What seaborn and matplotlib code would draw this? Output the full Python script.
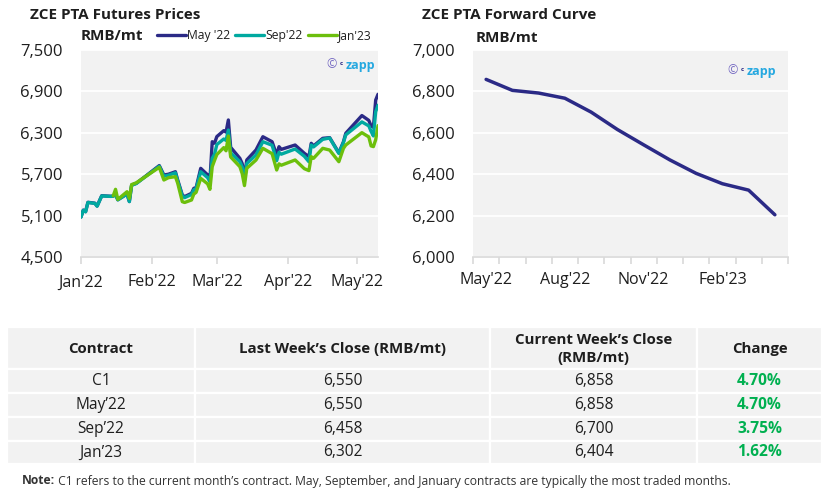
import numpy as np
import pandas as pd
import matplotlib
matplotlib.use("Agg")
import matplotlib.pyplot as plt
import matplotlib.dates as mdates
from matplotlib.ticker import FuncFormatter
from matplotlib.patches import Rectangle
import seaborn as sns

# ZCE PTA futures prices (RMB/mt)
dates = ["2022-01-04", "2022-01-05", "2022-01-06", "2022-01-07", "2022-01-10", "2022-01-11",
         "2022-01-13", "2022-01-17", "2022-01-18", "2022-01-19", "2022-01-20", "2022-01-24",
         "2022-01-25", "2022-01-26", "2022-01-28", "2022-02-07", "2022-02-09", "2022-02-11",
         "2022-02-14", "2022-02-15", "2022-02-17", "2022-02-18", "2022-02-21", "2022-02-22",
         "2022-02-23", "2022-02-25", "2022-02-28", "2022-03-01", "2022-03-02", "2022-03-03",
         "2022-03-04", "2022-03-07", "2022-03-08", "2022-03-09", "2022-03-10", "2022-03-14",
         "2022-03-15", "2022-03-16", "2022-03-17", "2022-03-21", "2022-03-24", "2022-03-28",
         "2022-03-30", "2022-03-31", "2022-04-01", "2022-04-07", "2022-04-11", "2022-04-13",
         "2022-04-14", "2022-04-15", "2022-04-19", "2022-04-22", "2022-04-26", "2022-04-28",
         "2022-04-29", "2022-05-06", "2022-05-09", "2022-05-10", "2022-05-11", "2022-05-12",
         "2022-05-13"]
may22 = [5080, 5180, 5157, 5293, 5280, 5239, 5388, 5380, 5385, 5405, 5330, 5415,
         5305, 5543, 5567, 5825, 5688, 5700, 5736, 5616, 5399, 5375, 5423, 5495,
         5505, 5785, 5690, 5616, 6171, 6150, 6245, 6331, 6310, 6486, 6090, 5930,
         5855, 5660, 5906, 6051, 6243, 6171, 5978, 6099, 6060, 6123, 6003, 5954,
         6148, 6110, 6220, 6230, 6010, 6171, 6293, 6550, 6480, 6400, 6380, 6775,
         6858]
sep22 = [5078, 5176, 5155, 5290, 5277, 5236, 5385, 5378, 5382, 5400, 5328, 5412,
         5302, 5540, 5565, 5815, 5670, 5685, 5720, 5600, 5385, 5360, 5405, 5475,
         5490, 5736, 5650, 5590, 5930, 5990, 6130, 6210, 6190, 6340, 6010, 5880,
         5805, 5610, 5855, 5978, 6171, 6120, 5896, 6017, 5990, 6065, 5960, 5880,
         6123, 6095, 6205, 6225, 6000, 6160, 6270, 6458, 6400, 6320, 6255, 6606,
         6700]
jan23 = [np.nan, np.nan, np.nan, np.nan, np.nan, np.nan, np.nan, np.nan, 5388, 5481, 5335, 5446,
         5350, 5550, 5575, 5800, 5616, 5650, 5664, 5570, 5302, 5290, 5326, 5412,
         5437, 5640, 5560, 5481, 5809, 5900, 5985, 6085, 6040, 6254, 5950, 5809,
         5710, 5535, 5785, 5905, 6075, 5998, 5761, 5850, 5830, 5906, 5780, 5752,
         5954, 5930, 6075, 6050, 5881, 6075, 6123, 6302, 6240, 6110, 6100, 6200,
         6404]

# forward curve
curve_months = ["May'22", "Jun'22", "Jul'22", "Aug'22", "Sep'22", "Oct'22",
                "Nov'22", "Dec'22", "Jan'23", "Feb'23", "Mar'23", "Apr'23"]
curve_prices = [6858, 6805, 6792, 6767, 6700, 6616, 6542, 6469, 6404, 6354, 6323, 6204]

# weekly table
contracts = ["C1", "May\u201922", "Sep\u201922", "Jan\u201923"]
last_close = [6550, 6550, 6458, 6302]
current_close = [6858, 6858, 6700, 6404]
change_pct = [4.70, 4.70, 3.75, 1.62]

NAVY = "#2b2a86"
TEAL = "#00a9a0"
GREEN = "#6cbf0c"
BG = "#f2f2f2"
TXT = "#1e1e1e"

sns.set_theme(style="white")
plt.rcParams["font.family"] = ["Open Sans", "DejaVu Sans"]

W, H = 833, 496
fig = plt.figure(figsize=(W / 100, H / 100), dpi=100)


def box(x0, y0, x1, y1):
    return [x0 / W, 1 - y1 / H, (x1 - x0) / W, (y1 - y0) / H]


# table / text layer in pixel coordinates
tab = fig.add_axes([0, 0, 1, 1])
tab.set_xlim(0, W)
tab.set_ylim(H, 0)
tab.axis("off")

ax1 = fig.add_axes(box(81, 50, 378, 257))
ax2 = fig.add_axes(box(473, 50, 788, 257))

# --- left: futures prices ---
df = pd.DataFrame({"date": pd.to_datetime(dates), "May '22": may22,
                   "Sep'22": sep22, "Jan'23": jan23})
long = df.melt(id_vars="date", var_name="contract", value_name="price").dropna()
sns.lineplot(data=long, x="date", y="price", hue="contract",
             hue_order=["May '22", "Sep'22", "Jan'23"],
             palette={"May '22": NAVY, "Sep'22": TEAL, "Jan'23": GREEN},
             estimator=None, lw=2.4, ax=ax1)
sns.move_legend(ax1, "center left", bbox_to_anchor=(0.255, 1.068), ncol=3,
                frameon=False, title=None, fontsize=8.7, handlelength=2.4,
                handletextpad=0.12, columnspacing=0.4, borderpad=0, borderaxespad=0)
for t in ax1.get_legend().get_texts():
    t.set_color(TXT)

ax1.set_xlim(pd.Timestamp("2022-01-04"), pd.Timestamp("2022-05-13"))
ax1.set_xticks(pd.to_datetime(["2022-01-04", "2022-02-04", "2022-03-04",
                               "2022-04-04", "2022-05-04"]))
ax1.xaxis.set_major_formatter(mdates.DateFormatter("%b'%y"))
ax1.set_ylim(4500, 7500)
ax1.set_yticks(np.arange(4500, 7501, 600))

# --- right: forward curve ---
sns.lineplot(x=curve_months, y=curve_prices, sort=False, color=NAVY, lw=2.5, ax=ax2)
ax2.set_xlim(-0.5, 11.5)
ax2.set_xticks([0, 3, 6, 9])
ax2.set_xticklabels([curve_months[i] for i in [0, 3, 6, 9]])
ax2.set_xticks(np.arange(-0.5, 12, 1), minor=True)
ax2.set_ylim(6000, 7000)
ax2.set_yticks(np.arange(6000, 7001, 200))

for ax in (ax1, ax2):
    ax.set_facecolor(BG)
    ax.set_xlabel("")
    ax.set_ylabel("")
    ax.grid(axis="y", color="white", lw=1.3)
    ax.grid(axis="x", visible=False)
    ax.set_axisbelow(True)
    for s in ("top", "right", "left"):
        ax.spines[s].set_visible(False)
    ax.spines["bottom"].set_color("#d9d9d9")
    ax.spines["bottom"].set_linewidth(1.2)
    ax.yaxis.set_major_formatter(FuncFormatter(lambda v, p: f"{v:,.0f}"))
    ax.tick_params(axis="y", length=0, pad=13, labelsize=12, labelcolor=TXT)
    ax.tick_params(axis="x", which="both", direction="out", color="#d9d9d9",
                   width=1.2, labelsize=11.5, labelcolor=TXT, pad=7.5)
ax1.tick_params(axis="x", length=5, bottom=True)
ax2.tick_params(axis="x", which="major", length=0, bottom=True, pad=11)
ax2.tick_params(axis="x", which="minor", length=5, bottom=True)

# titles and units
tab.text(30, 15, "ZCE PTA Futures Prices", fontsize=11, weight="bold", color=TXT, va="center")
tab.text(81, 36, "RMB/mt", fontsize=11, weight="bold", color=TXT, va="center")
tab.text(422, 15, "ZCE PTA Forward Curve", fontsize=11, weight="bold", color=TXT, va="center")
tab.text(476, 38, "RMB/mt", fontsize=11, weight="bold", color=TXT, va="center")


def watermark(x, y):
    c = tab.text(x, y, "\u00a9", fontsize=9, color="#7468c2", va="center", zorder=5)
    tab.annotate("c", xy=(1, 0.62), xycoords=c, xytext=(2.5, 0),
                 textcoords="offset points", fontsize=4.5, color=NAVY,
                 weight="bold", va="center", zorder=5)
    tab.annotate("zapp", xy=(1, 0.5), xycoords=c, xytext=(6.5, -0.5),
                 textcoords="offset points", fontsize=9, color="#25a8e0",
                 weight="bold", va="center", zorder=5)


tab.set_zorder(3)
watermark(326, 65)
watermark(727, 71)

# --- table ---
col_edges = [7, 195, 490, 697, 822]
row_edges = [327, 369, 393, 417, 441, 464]
for r in range(len(row_edges) - 1):
    for c in range(len(col_edges) - 1):
        tab.add_patch(Rectangle((col_edges[c], row_edges[r]),
                                col_edges[c + 1] - col_edges[c],
                                row_edges[r + 1] - row_edges[r],
                                facecolor=BG, edgecolor="white", lw=1.6))

headers = ["Contract", "Last Week\u2019s Close (RMB/mt)",
           "Current Week\u2019s Close\n(RMB/mt)", "Change"]
cx = [(col_edges[i] + col_edges[i + 1]) / 2 for i in range(4)]
for i, h in enumerate(headers):
    tab.text(cx[i], 349, h, ha="center", va="center", fontsize=10.8, weight="bold",
             color=TXT, linespacing=1.35)

for r in range(len(contracts)):
    y = (row_edges[r + 1] + row_edges[r + 2]) / 2
    tab.text(cx[0], y, contracts[r], ha="center", va="center", fontsize=11.2, color=TXT)
    tab.text(cx[1], y, f"{last_close[r]:,}", ha="center", va="center", fontsize=11.2, color=TXT)
    tab.text(cx[2], y, f"{current_close[r]:,}", ha="center", va="center", fontsize=11.2, color=TXT)
    tab.text(cx[3], y, f"{change_pct[r]:.2f}%", ha="center", va="center", fontsize=11.2,
             weight="bold", color="#00b050")

note = tab.text(22, 481, "Note:", fontsize=8.7, weight="bold", color="#333333", va="center")
tab.annotate(" C1 refers to the current month\u2019s contract. May, September, and January "
             "contracts are typically the most traded months.",
             xy=(1, 0.5), xycoords=note, fontsize=8.7, color="#333333", va="center")

fig.savefig("out.png", dpi=100)
